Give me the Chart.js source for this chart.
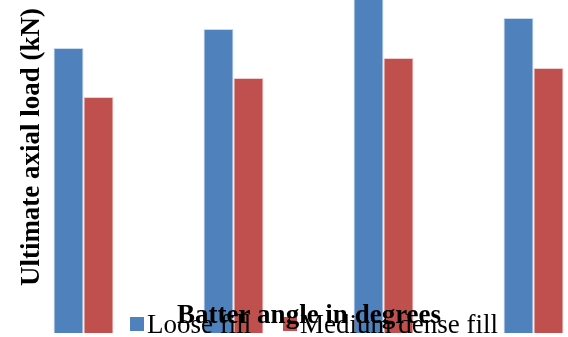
<!DOCTYPE html>
<html>
<head>
<meta charset="utf-8">
<script src="https://cdn.jsdelivr.net/npm/chart.js@4.4.1/dist/chart.umd.min.js"></script>
<style>
  html, body { margin: 0; padding: 0; background: #fff; }
  #wrap { position: relative; width: 568px; height: 337px; overflow: hidden; }
  #chart { position: absolute; left: 0; top: 0; }
</style>
</head>
<body>
<div id="wrap"><canvas id="chart" width="660" height="337"></canvas></div>
<script>
// --- DATA ---
const categories = ['0', '10', '20', '30'];
const looseFill = [2.85, 3.04, 3.45, 3.15];
const mediumDenseFill = [2.36, 2.55, 2.75, 2.65];
const seriesNames = ['Loose fill', 'Medium dense fill'];
const xTitle = 'Batter angle in degrees';
const yTitle = 'Ultimate axial load (kN)';

const BLUE = '#4F81BD';
const RED = '#C0504D';

// --- TITLES & LEGEND (drawn on the canvas, overlapping like the original) ---
const textPlugin = {
    id: 'texts',
    afterDraw(chart) {
        const ctx = chart.ctx;
        ctx.save();
        ctx.fillStyle = '#000';

        // legend
        ctx.font = '27px "Liberation Serif"';
        ctx.textBaseline = 'alphabetic';
        ctx.textAlign = 'left';
        ctx.fillStyle = BLUE;
        ctx.fillRect(130, 317, 14, 14);
        ctx.fillStyle = '#000';
        ctx.fillText(seriesNames[0], 147, 333);
        ctx.fillStyle = RED;
        ctx.fillRect(283, 317, 14, 14);
        ctx.fillStyle = '#000';
        ctx.fillText(seriesNames[1], 300, 333);

        // x axis title
        ctx.font = 'bold 27px "Liberation Serif"';
        ctx.textAlign = 'center';
        ctx.fillText(xTitle, 309, 323);

        // y axis title
        ctx.translate(39, 147);
        ctx.rotate(-Math.PI / 2);
        ctx.fillText(yTitle, 0, 0);
        ctx.restore();
    }
};

const ctx = document.getElementById('chart').getContext('2d');
new Chart(ctx, {
    type: 'bar',
    data: {
        labels: categories,
        datasets: [
            {
                label: seriesNames[0],
                data: looseFill,
                backgroundColor: BLUE,
                borderColor: 'rgba(190,210,235,0.8)',
                borderWidth: 1,
                categoryPercentage: 0.4,
                barPercentage: 1.0
            },
            {
                label: seriesNames[1],
                data: mediumDenseFill,
                backgroundColor: RED,
                borderColor: 'rgba(235,195,195,0.8)',
                borderWidth: 1,
                categoryPercentage: 0.4,
                barPercentage: 1.0
            }
        ]
    },
    options: {
        responsive: false,
        animation: false,
        layout: { padding: { left: 8.5, right: 51.5, top: 0, bottom: 4 } },
        plugins: {
            legend: { display: false },
            tooltip: { enabled: false }
        },
        scales: {
            x: { display: false },
            y: { display: false, min: 0, max: 3.33 }
        }
    },
    plugins: [textPlugin]
});
</script>
</body>
</html>
